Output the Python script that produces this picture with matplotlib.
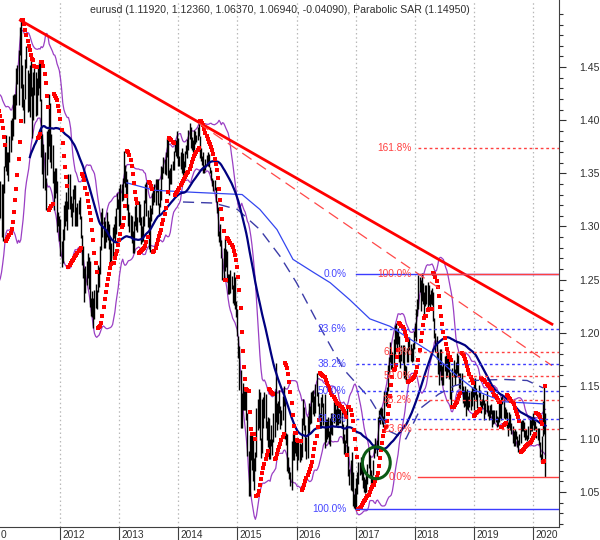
import numpy as np
import pandas as pd
import matplotlib
matplotlib.use("Agg")
import matplotlib.pyplot as plt
from matplotlib.patches import Ellipse
import matplotlib.transforms as mtransforms

plt.rcParams['font.family'] = ['Liberation Sans', 'DejaVu Sans']

# weekly eurusd highs / lows (in 1/1000), weeks of 2010-07-05 .. 2020-03-16, one line per month
week_hi = [
    1272, 1297, 1303, 1311,
    1333, 1319, 1290, 1277, 1291,
    1290, 1313, 1350, 1379,
    1398, 1412, 1405, 1400,
    1425, 1411, 1373, 1376, 1340,
    1345, 1345, 1320, 1343,
    # 2011
    1340, 1340, 1357, 1376, 1386,
    1370, 1370, 1385, 1400,
    1402, 1424, 1425, 1425,
    1449, 1452, 1466, 1488,
    1494, 1452, 1434, 1420, 1458,
    1470, 1447, 1444, 1452,
    1457, 1431, 1445, 1450,
    1445, 1440, 1449, 1455, 1455,
    1420, 1387, 1378, 1370,
    1346, 1390, 1392, 1425, 1416,
    1387, 1377, 1352, 1355,
    1355, 1343, 1314, 1310,
    # 2012
    1307, 1286, 1298, 1320, 1324,
    1332, 1324, 1349, 1349,
    1329, 1322, 1335, 1339,
    1339, 1318, 1322, 1325, 1328,
    1310, 1292, 1282, 1261,
    1263, 1267, 1275, 1271,
    1267, 1233, 1239, 1233, 1240,
    1246, 1240, 1264, 1262,
    1282, 1314, 1317, 1309,
    1305, 1298, 1314, 1305, 1302,
    1289, 1284, 1299, 1302,
    1310, 1317, 1331, 1326, 1336,
    # 2013
    1340, 1340, 1346, 1371,
    1358, 1352, 1345, 1321,
    1314, 1311, 1310, 1296,
    1305, 1319, 1322, 1309, 1324,
    1321, 1309, 1300, 1310,
    1325, 1340, 1342, 1315,
    1309, 1320, 1317, 1331, 1335,
    1340, 1345, 1345, 1345,
    1322, 1335, 1357, 1356, 1365,
    1363, 1370, 1383, 1381,
    1353, 1355, 1359, 1362,
    1371, 1381, 1381, 1390, 1383,
    # 2014
    1366, 1370, 1374, 1369,
    1362, 1371, 1377, 1382,
    1391, 1397, 1394, 1384, 1381,
    1391, 1390, 1386, 1394,
    1399, 1385, 1374, 1366,
    1370, 1358, 1363, 1367, 1370,
    1368, 1356, 1353, 1346,
    1344, 1344, 1337, 1324,
    1318, 1296, 1302, 1287, 1270,
    1280, 1289, 1279, 1277,
    1255, 1255, 1259, 1253,
    1245, 1257, 1252, 1230, 1222,
    # 2015
    1197, 1187, 1165, 1143,
    1153, 1145, 1146, 1145,
    1124, 1089, 1104, 1105, 1105,
    1100, 1082, 1088, 1129,
    1138, 1147, 1144, 1101,
    1138, 1139, 1144, 1142, 1117,
    1121, 1120, 1100, 1113,
    1100, 1124, 1145, 1171, 1134,
    1136, 1146, 1131, 1127,
    1140, 1150, 1138, 1106,
    1105, 1083, 1074, 1069, 1098,
    1106, 1106, 1099, 1098,
    # 2016
    1097, 1098, 1096, 1095,
    1120, 1138, 1130, 1113, 1102,
    1122, 1134, 1131, 1144,
    1145, 1146, 1140, 1152,
    1162, 1144, 1134, 1124, 1139,
    1142, 1134, 1142, 1119,
    1119, 1121, 1107, 1120,
    1124, 1124, 1136, 1134, 1128,
    1133, 1129, 1128, 1128,
    1125, 1114, 1105, 1099, 1113,
    1130, 1093, 1072, 1080,
    1088, 1069, 1048, 1054,
    # 2017
    1063, 1069, 1078, 1078, 1083,
    1075, 1070, 1064, 1062,
    1069, 1076, 1091, 1085,
    1071, 1066, 1080, 1095,
    1101, 1099, 1121, 1127, 1129,
    1130, 1129, 1122, 1145,
    1145, 1149, 1170, 1177, 1191,
    1183, 1182, 1194, 1207,
    1209, 1202, 1204, 1197,
    1180, 1188, 1188, 1188, 1170,
    1169, 1186, 1196, 1196,
    1189, 1186, 1190, 1202,
    # 2018
    1209, 1222, 1232, 1254, 1252,
    1250, 1256, 1247, 1238,
    1245, 1245, 1248, 1245,
    1236, 1240, 1242, 1238, 1214,
    1200, 1197, 1182, 1172,
    1185, 1185, 1169, 1171,
    1178, 1179, 1177, 1177, 1174,
    1163, 1146, 1167, 1174,
    1166, 1172, 1181, 1179,
    1162, 1162, 1162, 1150, 1146,
    1150, 1145, 1147, 1140,
    1144, 1145, 1149, 1149, 1156,
    # 2019
    1157, 1148, 1142, 1151,
    1146, 1136, 1138, 1142,
    1137, 1134, 1145, 1132,
    1127, 1132, 1133, 1127, 1127,
    1127, 1127, 1122, 1121,
    1135, 1135, 1139, 1141,
    1138, 1130, 1128, 1125, 1116,
    1125, 1123, 1115, 1112,
    1107, 1109, 1107, 1103, 1099,
    1105, 1117, 1118, 1118,
    1116, 1108, 1109, 1104,
    1112, 1120, 1118, 1121, 1124,
    # 2020
    1121, 1117, 1112, 1110,
    1110, 1097, 1086, 1103,
    1136, 1150, 1124,
]
week_lo = [
    1250, 1263, 1279, 1285,
    1306, 1277, 1266, 1259, 1267,
    1262, 1271, 1306, 1340,
    1363, 1382, 1378, 1368,
    1383, 1358, 1345, 1325, 1295,
    1318, 1315, 1306, 1308,
    # 2011
    1290, 1286, 1331, 1356, 1352,
    1348, 1343, 1361, 1370,
    1381, 1385, 1401, 1401,
    1414, 1434, 1414, 1461,
    1430, 1412, 1410, 1397, 1420,
    1449, 1408, 1409, 1403,
    1423, 1383, 1400, 1424,
    1404, 1405, 1424, 1430, 1418,
    1365, 1349, 1336, 1334,
    1315, 1348, 1363, 1376, 1361,
    1355, 1341, 1315, 1327,
    1331, 1295, 1300, 1286,
    # 2012
    1272, 1262, 1266, 1287, 1300,
    1305, 1297, 1316, 1316,
    1309, 1300, 1314, 1326,
    1300, 1300, 1300, 1312, 1307,
    1289, 1264, 1251, 1229,
    1237, 1245, 1251, 1241,
    1224, 1216, 1215, 1204, 1213,
    1223, 1222, 1238, 1243,
    1255, 1278, 1290, 1280,
    1280, 1285, 1290, 1287, 1279,
    1266, 1266, 1270, 1289,
    1286, 1293, 1316, 1316, 1300,
    # 2013
    1301, 1324, 1325, 1341,
    1337, 1329, 1315, 1300,
    1295, 1290, 1284, 1275,
    1275, 1300, 1297, 1295, 1304,
    1301, 1283, 1285, 1286,
    1300, 1322, 1310, 1299,
    1279, 1276, 1305, 1312, 1320,
    1323, 1320, 1332, 1320,
    1310, 1318, 1325, 1345, 1350,
    1349, 1348, 1365, 1346,
    1330, 1340, 1340, 1353,
    1353, 1370, 1366, 1364, 1357,
    # 2014
    1357, 1354, 1350, 1348,
    1349, 1356, 1368, 1364,
    1372, 1382, 1374, 1372, 1370,
    1370, 1378, 1379, 1381,
    1385, 1364, 1362, 1358,
    1350, 1350, 1353, 1358, 1357,
    1356, 1350, 1344, 1338,
    1333, 1334, 1323, 1313,
    1291, 1285, 1282, 1270, 1250,
    1250, 1258, 1262, 1248,
    1236, 1236, 1237, 1241,
    1228, 1226, 1222, 1215, 1197,
    # 2015
    1176, 1146, 1110, 1110,
    1127, 1127, 1127, 1118,
    1084, 1046, 1046, 1080, 1071,
    1060, 1052, 1070, 1083,
    1108, 1110, 1099, 1082,
    1087, 1110, 1120, 1110, 1099,
    1092, 1081, 1081, 1093,
    1085, 1097, 1102, 1116, 1108,
    1114, 1124, 1109, 1113,
    1118, 1131, 1100, 1094,
    1070, 1068, 1062, 1056, 1052,
    1080, 1080, 1087, 1084,
    # 2016
    1071, 1080, 1078, 1080,
    1083, 1113, 1108, 1089, 1081,
    1082, 1106, 1114, 1115,
    1135, 1123, 1122, 1124,
    1140, 1131, 1119, 1110, 1110,
    1130, 1113, 1091, 1097,
    1100, 1102, 1095, 1093,
    1105, 1104, 1115, 1117, 1112,
    1113, 1113, 1115, 1115,
    1110, 1096, 1086, 1085, 1096,
    1087, 1065, 1057, 1052,
    1051, 1037, 1035, 1034,
    # 2017
    1034, 1048, 1058, 1066, 1067,
    1061, 1054, 1050, 1049,
    1050, 1058, 1073, 1064,
    1058, 1057, 1066, 1082,
    1087, 1084, 1093, 1116, 1114,
    1118, 1114, 1111, 1117,
    1131, 1131, 1145, 1161, 1172,
    1166, 1166, 1170, 1177,
    1189, 1184, 1189, 1172,
    1167, 1173, 1171, 1157, 1156,
    1154, 1172, 1172, 1184,
    1173, 1172, 1173, 1185,
    # 2018
    1196, 1192, 1216, 1222, 1238,
    1220, 1230, 1227, 1216,
    1225, 1227, 1222, 1226,
    1222, 1227, 1226, 1211, 1195,
    1182, 1175, 1161, 1151,
    1164, 1155, 1151, 1151,
    1164, 1157, 1158, 1163, 1156,
    1138, 1130, 1144, 1158,
    1151, 1158, 1162, 1158,
    1148, 1147, 1143, 1134, 1130,
    1131, 1122, 1128, 1127,
    1130, 1127, 1131, 1139, 1127,
    # 2019
    1141, 1136, 1129, 1139,
    1132, 1124, 1129, 1132,
    1118, 1123, 1125, 1122,
    1118, 1120, 1123, 1111, 1114,
    1115, 1116, 1111, 1112,
    1116, 1120, 1118, 1133,
    1120, 1119, 1120, 1110, 1103,
    1111, 1108, 1105, 1096,
    1093, 1093, 1100, 1092, 1088,
    1094, 1096, 1107, 1107,
    1102, 1099, 1100, 1098,
    1100, 1104, 1107, 1107, 1113,
    # 2020
    1108, 1109, 1101, 1099,
    1094, 1083, 1078, 1080,
    1103, 1105, 1064,
]

# long moving averages (year, price)
ma_thin_x = [2013.13, 2013.6, 2014.3, 2015.08, 2015.38, 2015.67, 2015.94, 2016.28, 2016.57,
             2016.9, 2017.24, 2017.58, 2018.26, 2018.7, 2019.05, 2019.5, 2020.17]
ma_thin_y = [1.341, 1.334, 1.332, 1.330, 1.316, 1.297, 1.269, 1.257, 1.247,
             1.231, 1.213, 1.206, 1.182, 1.160, 1.145, 1.135, 1.133]
ma_dash_x = [2014.08, 2014.6, 2015.0, 2015.38, 2015.72, 2016.0, 2016.4, 2016.79, 2017.24,
             2017.58, 2017.85, 2018.1, 2018.4, 2018.67, 2019.0, 2019.5, 2019.9, 2020.17]
ma_dash_y = [1.323, 1.322, 1.316, 1.297, 1.272, 1.247, 1.205, 1.166, 1.138,
             1.107, 1.100, 1.129, 1.142, 1.150, 1.155, 1.156, 1.155, 1.148]

# trend lines (year, price)
trend_x = [2011.33, 2020.32]
trend_y = [1.494, 1.208]
trend2_x = [2014.35, 2020.32]
trend2_y = [1.397, 1.169]

# fibonacci sets
fib_pcts = [0.0, 23.6, 38.2, 50.0, 61.8, 100.0]
fib_blue_hi, fib_blue_lo = 1.2555, 1.0340
red_pcts = [0.0, 23.6, 38.2, 50.0, 61.8, 100.0, 161.8]
fib_red_hi, fib_red_lo = 1.2555, 1.0637

title = "eurusd (1.11920, 1.12360, 1.06370, 1.06940, -0.04090), Parabolic SAR (1.14950)"
years = list(range(2012, 2021))


def psar(hi, lo, step=0.02, amax=0.2):
    n = len(hi)
    sar = np.zeros(n)
    bull = True
    af = step
    ep = hi[0]
    sar[0] = lo[0]
    for i in range(1, n):
        s = sar[i - 1] + af * (ep - sar[i - 1])
        if bull:
            s = min(s, lo[i - 1], lo[max(i - 2, 0)])
            if lo[i] < s:
                bull, s, ep, af = False, ep, lo[i], step
            elif hi[i] > ep:
                ep = hi[i]
                af = min(af + step, amax)
        else:
            s = max(s, hi[i - 1], hi[max(i - 2, 0)])
            if hi[i] > s:
                bull, s, ep, af = True, ep, hi[i], step
            elif lo[i] < ep:
                ep = lo[i]
                af = min(af + step, amax)
        sar[i] = s
    return sar


hi = np.array(week_hi) / 1000.0
lo = np.array(week_lo) / 1000.0
dates = pd.date_range(end="2020-03-16", periods=len(hi), freq="W-MON")
x = dates.year + (dates.dayofyear - 1) / 365.25 + 2.0 / 365.25
mid = pd.Series((hi + lo) / 2)
ma52 = mid.rolling(52).mean()
bb_mid = mid.rolling(20).mean()
bb_sd = mid.rolling(20).std(ddof=0)
bb_up = bb_mid + 2 * bb_sd
bb_dn = bb_mid - 2 * bb_sd
sar = psar(hi, lo)

fig = plt.figure(figsize=(6, 5.4), dpi=100)
ax = fig.add_axes([0, 13 / 540, 558.5 / 600, 527 / 540])
ax.set_xlim(2010.985, 2020.431)
ax.set_ylim(1.0171, 1.5131)

for yr in years:
    ax.axvline(yr, color="#b8b8b8", lw=0.9, ls=(0, (1.2, 2.2)), zorder=0)

ax.plot(x, bb_up, color="#9a3fc4", lw=0.9, zorder=2)
ax.plot(x, bb_dn, color="#9a3fc4", lw=0.9, zorder=2)
ax.vlines(x, lo, hi, color="black", lw=1.0, zorder=3)
ax.plot(ma_thin_x, ma_thin_y, color="#3446f0", lw=0.9, zorder=4)
ax.plot(ma_dash_x, ma_dash_y, color="#3c3ca8", lw=1.0, ls=(0, (8, 5)), zorder=4)
ax.plot(x, ma52, color="#000080", lw=1.6, zorder=5)
ax.plot(x, sar, ls="none", marker="s", ms=2.2, mew=0, color="#ff0000", zorder=6)

ax.plot(trend_x, trend_y, color="#ff0000", lw=2.0, zorder=7)
ax.plot(trend2_x, trend2_y, color="#ff4848", lw=0.9, ls=(0, (9, 5)), zorder=7)

# blue retracement
blue_x0 = 2017.0
for p in fib_pcts:
    lev = fib_blue_hi - (fib_blue_hi - fib_blue_lo) * p / 100
    ls = "-" if p in (0.0, 100.0) else (0, (2, 2))
    ax.plot([blue_x0, 2020.431], [lev, lev], color="#3c3cff", lw=1.0, ls=ls, zorder=8)
    ax.text(2016.84, lev, "%.1f%%" % p, color="#4646ff", fontsize=7.3, ha="right", va="center", zorder=9)

# red extension
red_x0 = 2018.05
for p in red_pcts:
    lev = fib_red_lo + (fib_red_hi - fib_red_lo) * p / 100
    ls = "-" if p in (0.0, 100.0) else (0, (2, 2))
    ax.plot([red_x0, 2020.431], [lev, lev], color="#ff4040", lw=1.0, ls=ls, zorder=8)
    ax.text(2017.95, lev, "%.1f%%" % p, color="#ff4040", fontsize=7.3, ha="right", va="center", zorder=9)

ax.add_patch(Ellipse((2017.35, 1.0775), 0.47, 0.03, fill=False, ec="#0b5a14", lw=2.2, zorder=10))

ax.text(90 / 558.5, 1 - 10 / 527, title, transform=ax.transAxes, fontsize=7.6,
        color="#303030", ha="left", va="center")

for s in ("left", "top"):
    ax.spines[s].set_visible(False)
ax.spines["right"].set_color("#404040")
ax.spines["bottom"].set_color("#404040")

ax.yaxis.tick_right()
ax.set_yticks(np.arange(1.05, 1.46, 0.05))
ax.set_yticks(np.arange(1.02, 1.51, 0.01), minor=True)
ax.set_yticklabels(["%.2f" % v for v in np.arange(1.05, 1.46, 0.05)])
ax.tick_params(axis="y", which="major", length=5, width=0.8, pad=10, labelsize=7.6, colors="#303030")
ax.tick_params(axis="y", which="minor", length=3, width=0.8, colors="#303030")

ax.set_xticks(years)
ax.set_xticklabels([""] * len(years))
ax.tick_params(axis="x", which="major", length=10, width=0.8, colors="#404040")
trans = mtransforms.offset_copy(ax.get_xaxis_transform(), fig=fig, x=1.5, y=-6, units="points")
for yr in years:
    ax.text(yr, 0, str(yr), transform=trans, fontsize=7.3, color="#303030", ha="left", va="center")
# stray end of an earlier year label at the left edge
fig.text(0.5 / 600, 5 / 540, "0", fontsize=7.3, color="#303030", ha="left", va="center")

fig.savefig("out.png", dpi=100)
